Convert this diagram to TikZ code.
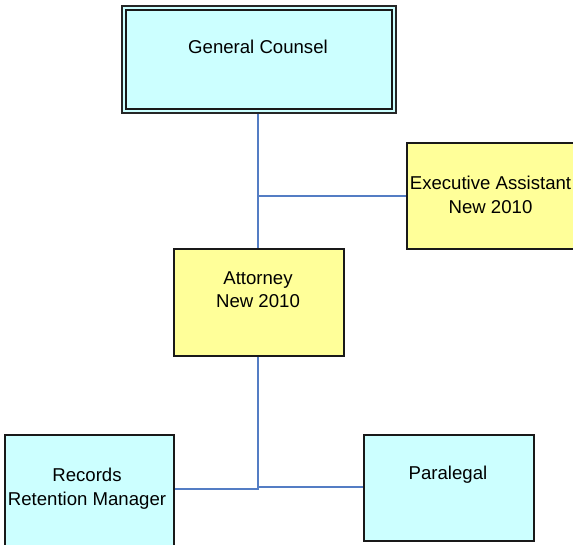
\documentclass[tikz,border=0pt]{standalone}
\usepackage{fontspec}
\setmainfont{Liberation Sans}
\definecolor{boxcyan}{RGB}{204,255,255}
\definecolor{boxyellow}{RGB}{255,255,153}
\definecolor{linkblue}{RGB}{84,125,196}
\begin{document}
\begin{tikzpicture}[x=1pt,y=-1pt,
  box/.style={draw=black!90,line width=1.7pt,inner sep=0pt,anchor=north west},
  cyanbox/.style={box,fill=boxcyan},
  yellowbox/.style={box,fill=boxyellow},
  lbl/.style={font=\fontsize{18.6}{23.5}\selectfont,align=center,inner sep=0pt},
  link/.style={draw=linkblue,line width=1.8pt}]
\useasboundingbox (0,0) rectangle (573,544);
\clip (0,0) rectangle (573,544);
% General Counsel (double border)
\node[cyanbox,draw=black!85,line width=1.6pt,minimum width=274pt,minimum height=107pt] (gc) at (121,5) {};
\node[box,minimum width=266pt,minimum height=99pt] (gcin) at (125,9) {};
\node[lbl] (gct) at (258,47) {General Counsel};
% Executive Assistant
\node[yellowbox,minimum width=172pt,minimum height=106pt] (ea) at (406,142) {};
\node[lbl] (eat) at (490.5,195) {Executive Assistant\\New 2010};
% Attorney
\node[yellowbox,minimum width=170pt,minimum height=107pt] (att) at (173,248) {};
\node[lbl] (attt) at (258,289.5) {Attorney\\New 2010};
% Records Retention Manager
\node[cyanbox,minimum width=169pt,minimum height=120pt] (rec) at (4,434) {};
\node[lbl] (rect) at (87,488.5) {Records\\Retention Manager};
% Paralegal
\node[cyanbox,minimum width=170pt,minimum height=106pt] (par) at (363,434) {};
\node[lbl] (part) at (448,475) {Paralegal};
% connectors
\coordinate (j0) at (258,196);
\coordinate (j1) at (258,489);
\coordinate (j2) at (258,487);
\draw[link] (gc.south -| j0) -- (att.north -| j0);
\draw[link] (j0) -- (ea.west |- j0);
\draw[link] (att.south -| j1) -- (j1) -- (rec.east |- j1);
\draw[link] (j2) -- (par.west |- j2);
\end{tikzpicture}
\end{document}
